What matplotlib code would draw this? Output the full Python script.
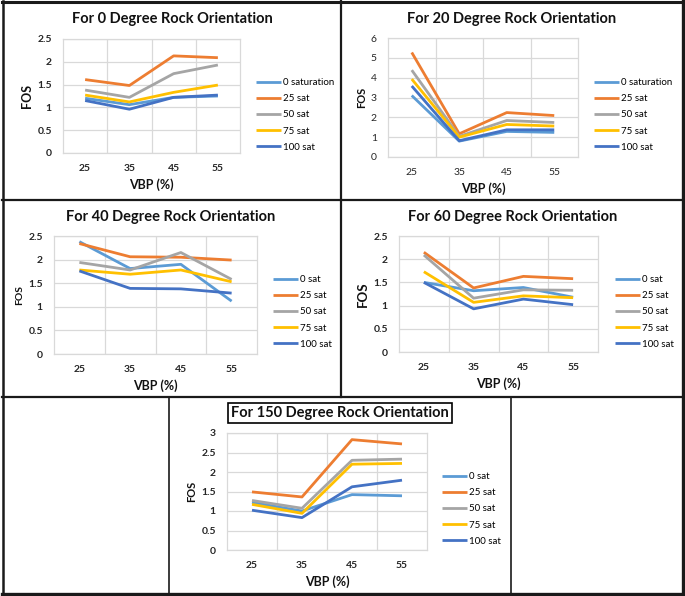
import matplotlib
matplotlib.use("Agg")
import matplotlib.pyplot as plt
from matplotlib.lines import Line2D

plt.rcParams['font.family'] = ['Lato', 'DejaVu Sans']

W, H = 685, 596

# data
vbp = ['25', '35', '45', '55']
sat_labels_long = ['0 saturation', '25 sat', '50 sat', '75 sat', '100 sat']
sat_labels_short = ['0 sat', '25 sat', '50 sat', '75 sat', '100 sat']

fos_0deg = [
    [1.20, 1.06, 1.22, 1.25],
    [1.61, 1.48, 2.13, 2.09],
    [1.38, 1.22, 1.74, 1.93],
    [1.27, 1.12, 1.33, 1.49],
    [1.15, 0.96, 1.22, 1.27],
]
fos_20deg = [
    [3.10, 0.80, 1.29, 1.24],
    [5.27, 1.17, 2.24, 2.09],
    [4.38, 1.04, 1.84, 1.74],
    [3.93, 1.00, 1.64, 1.56],
    [3.58, 0.82, 1.37, 1.37],
]
fos_40deg = [
    [2.38, 1.81, 1.90, 1.12],
    [2.34, 2.06, 2.05, 1.99],
    [1.94, 1.78, 2.15, 1.58],
    [1.78, 1.69, 1.78, 1.53],
    [1.76, 1.39, 1.38, 1.29],
]
fos_60deg = [
    [1.50, 1.32, 1.39, 1.18],
    [2.15, 1.38, 1.63, 1.58],
    [2.09, 1.16, 1.34, 1.33],
    [1.73, 1.07, 1.21, 1.17],
    [1.50, 0.93, 1.14, 1.02],
]
fos_150deg = [
    [1.22, 1.00, 1.42, 1.39],
    [1.49, 1.36, 2.83, 2.72],
    [1.27, 1.07, 2.30, 2.33],
    [1.17, 0.94, 2.20, 2.22],
    [1.02, 0.83, 1.62, 1.79],
]

colors = ['#5B9BD5', '#ED7D31', '#A5A5A5', '#FFC000', '#4472C4']
grid_c = '#D9D9D9'


def rect(l, t, r, b):
    return [l / W, 1 - b / H, (r - l) / W, (b - t) / H]


def fx(x):
    return x / W


def fy(y):
    return 1 - y / H


fig = plt.figure(figsize=(W / 100, H / 100), dpi=100)
fig.patch.set_facecolor('white')

# (title, data, labels, ymax, ystep, plot box, title pos, legend pos,
#  bold ticks, boxed title, FOS size)
panels = [
    ('For 0 Degree Rock Orientation', fos_0deg, sat_labels_long, 2.5, 0.5,
     (63, 39, 240, 153), (172, 19), (256, 78), True, False, 9),
    ('For 20 Degree Rock Orientation', fos_20deg, sat_labels_long, 6, 1,
     (388, 38, 578, 157), (512, 19), (594, 78), False, False, 8),
    ('For 40 Degree Rock Orientation', fos_40deg, sat_labels_short, 2.5, 0.5,
     (54, 236, 257, 354), (171, 217), (273, 275), True, False, 7.5),
    ('For 60 Degree Rock Orientation', fos_60deg, sat_labels_short, 2.5, 0.5,
     (399, 236, 598, 352), (513, 217), (615, 275), True, False, 9.5),
    ('For 150 Degree Rock Orientation', fos_150deg, sat_labels_short, 3, 0.5,
     (227, 433, 427, 550), (340, 413), (442, 472), True, True, 8),
]

for title, data, labels, ymax, ystep, box, tpos, lpos, bold, boxed, fos_fs in panels:
    ax = fig.add_axes(rect(*box))
    x = list(range(len(vbp)))
    for i, series in enumerate(data):
        ax.plot(x, series, color=colors[i], lw=2, label=labels[i],
                solid_capstyle='butt', zorder=3)
    ax.set_xlim(-0.5, len(vbp) - 0.5)
    ax.set_ylim(0, ymax)
    yt = [k * ystep for k in range(int(round(ymax / ystep)) + 1)]
    ax.set_yticks(yt)
    ax.set_yticklabels([f'{v:g}' for v in yt])
    ax.set_xticks(x)
    ax.set_xticklabels(vbp)
    ax.set_xticks([k + 0.5 for k in range(len(vbp) - 1)], minor=True)
    ax.grid(True, which='major', axis='y', color=grid_c, lw=0.9)
    ax.grid(True, which='minor', axis='x', color=grid_c, lw=0.9)
    ax.tick_params(which='both', length=0)
    ax.tick_params(axis='y', pad=8)
    ax.tick_params(axis='x', pad=8)
    for lab in ax.get_xticklabels() + ax.get_yticklabels():
        lab.set_fontsize(7.5)
        lab.set_fontweight('bold' if bold else 'normal')
        lab.set_color('#262626')
    for s in ax.spines.values():
        s.set_color(grid_c)
        s.set_linewidth(0.9)
    ax.set_xlabel('VBP (%)', fontsize=9, fontweight='bold', labelpad=4,
                  color='#111111')
    ax.set_ylabel('FOS', fontsize=fos_fs, fontweight='bold', labelpad=3,
                  color='#111111')

    t = fig.text(fx(tpos[0]), fy(tpos[1]), title, fontsize=10.5, fontweight='bold',
                 ha='center', va='center', color='#111111')
    if boxed:
        t.set_bbox(dict(boxstyle='square,pad=0.22', fc='white', ec='black', lw=1.2))

    ax.legend(loc='upper left', bbox_to_anchor=(fx(lpos[0]), fy(lpos[1])),
              bbox_transform=fig.transFigure, frameon=False, fontsize=7,
              handlelength=2.6, handletextpad=0.15, labelspacing=0.74,
              borderaxespad=0, borderpad=0)

# cell borders
def hline(y, x0, x1, lw):
    fig.add_artist(Line2D([fx(x0), fx(x1)], [fy(y), fy(y)], color='#1a1a1a', lw=lw))


def vline(x, y0, y1, lw):
    fig.add_artist(Line2D([fx(x), fx(x)], [fy(y0), fy(y1)], color='#1a1a1a', lw=lw))


hline(1.5, 2, 683, 2.2)
hline(593.5, 2, 683, 2.4)
vline(2.5, 1, 594, 1.8)
vline(682.5, 1, 594, 2.4)
hline(200, 2, 683, 1.6)
hline(397, 2, 683, 1.6)
vline(341, 1, 397, 1.6)
vline(169, 397, 594, 1.2)
vline(511, 397, 594, 1.2)

fig.savefig('out.png', dpi=100)
